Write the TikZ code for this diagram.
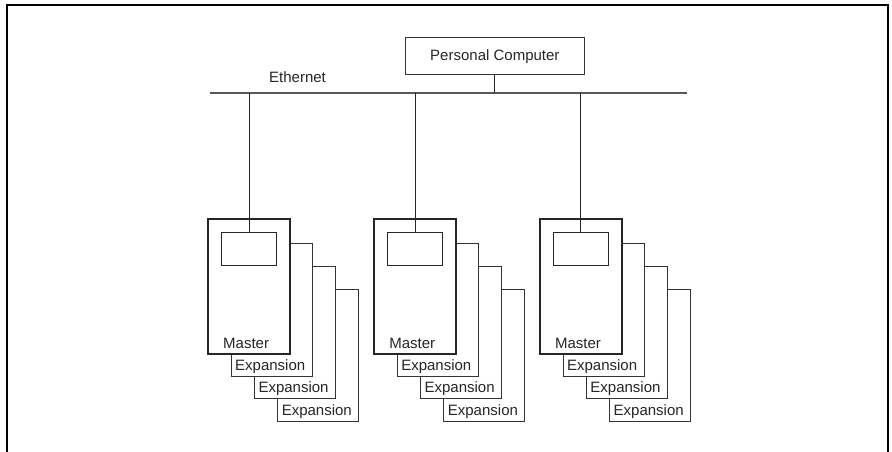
\documentclass[tikz,border=0pt]{standalone}
\usepackage{fontspec}
\setmainfont{Liberation Sans}
\begin{document}
\begin{tikzpicture}[x=1pt,y=-1pt,
  font=\fontsize{15}{17}\selectfont,
  every node/.style={text=black!85},
  frameline/.style={line width=2pt, draw=black},
  pcbox/.style={draw=black!80, line width=0.9pt, minimum width=178.3pt, minimum height=37pt, inner sep=0pt},
  busline/.style={draw=black!65, line width=2pt},
  wire/.style={draw=black!85, line width=0.9pt},
  masterbox/.style={draw=black!85, fill=white, line width=2pt, minimum width=82.6pt, minimum height=134.4pt, inner sep=0pt, anchor=north west},
  cardbox/.style={draw=black!80, fill=white, line width=0.9pt, minimum width=81pt, minimum height=132.5pt, inner sep=0pt, anchor=north west},
  screenbox/.style={draw=black!85, line width=0.9pt, minimum width=55pt, minimum height=33pt, inner sep=0pt, anchor=north west},
  lbl/.style={inner sep=0pt, anchor=base west}
]
\useasboundingbox (0,0) rectangle (892,451);
% outer frame
\draw[frameline] (7,470) -- (7,5) -- (888,5) -- (888,470);

% personal computer and bus
\node[pcbox] (pc) at (494.85,55.8) {};
\node[lbl, anchor=base] (pctext) at (pc.center |- 0,60) {Personal Computer};
\coordinate (busL) at (210,92.7);
\coordinate (busR) at (686.7,92.7);
\draw[busline] (busL) -- (busR);
\node[lbl] (eth) at (269,82.7) {Ethernet};
\draw[wire] (pc.south) -- (pc.south |- busL);

\foreach \g/\gx in {1/206.7, 2/372.8, 3/538.6} {
  % expansion cards (back to front)
  \foreach \k in {3,2,1} {
    \node[cardbox] (e\g\k) at ({\gx+24+23.3*(\k-1)}, {243.3+22.6*(\k-1)}) {};
    \node[lbl] (et\g\k) at ([xshift=4.3pt,yshift=6.7pt]e\g\k.south west) {Expansion};
  }
  \node[masterbox] (m\g) at (\gx,218.3) {};
  \node[screenbox] (s\g) at ([xshift=14.3pt,yshift=-14pt]m\g.north west) {};
  \node[lbl] (mt\g) at ([xshift=16.3pt,yshift=6pt]m\g.south west) {Master};
  \draw[wire] (s\g.north) -- (s\g.north |- busL);
}
\end{tikzpicture}
\end{document}
